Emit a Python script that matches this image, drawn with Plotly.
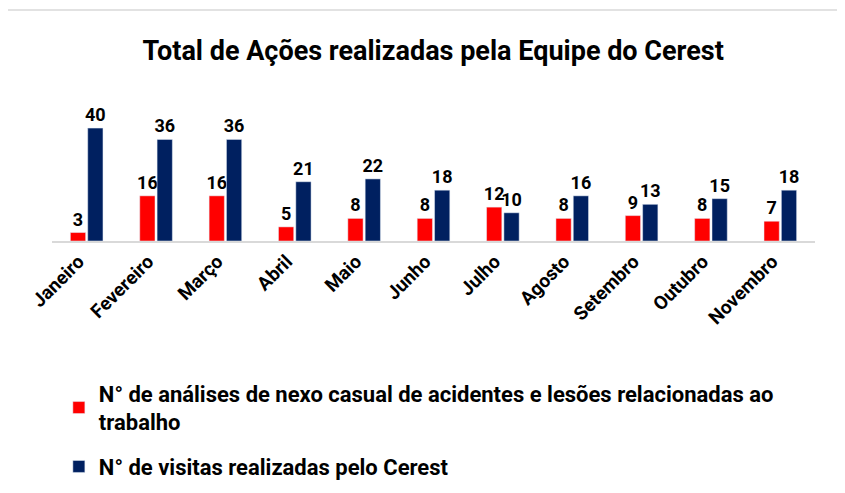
import plotly.graph_objects as go

meses = ["Janeiro", "Fevereiro", "Março", "Abril", "Maio", "Junho", "Julho",
         "Agosto", "Setembro", "Outubro", "Novembro"]
analises = [3, 16, 16, 5, 8, 8, 12, 8, 9, 8, 7]
visitas = [40, 36, 36, 21, 22, 18, 10, 16, 13, 15, 18]

nome1 = "N° de análises de nexo casual de acidentes e lesões relacionadas ao<br>trabalho"
nome2 = "N° de visitas realizadas pelo Cerest"

FONT = "Roboto"
lbl = dict(family=FONT, size=18, color="black", weight="bold")
fig = go.Figure()
fig.add_trace(go.Bar(x=meses, y=analises, name=nome1, marker_color="#ff0000",
                     legendgroup="a",
                     text=analises, textposition="outside",
                     cliponaxis=False, constraintext="none", textfont=lbl))
fig.add_trace(go.Bar(x=meses, y=visitas, name=nome2, marker_color="#002060",
                     legendgroup="b",
                     text=visitas, textposition="outside",
                     cliponaxis=False, constraintext="none", textfont=lbl))

fig.update_layout(
    width=837, height=485,
    margin=dict(l=44, r=30, t=106, b=252, autoexpand=False),
    paper_bgcolor="white", plot_bgcolor="white",
    barmode="group", bargap=0.5, bargroupgap=0.12,
    title=dict(text="Total de Ações realizadas pela Equipe do Cerest",
               x=0.508, xanchor="center", y=0.913, yanchor="middle",
               font=dict(family=FONT, size=27, color="black", weight="bold")),
    font=dict(family=FONT, color="black"),
    showlegend=True,
    legend=dict(orientation="v", x=0.009, xanchor="left", y=-1.035, yanchor="top",
                font=dict(family=FONT, size=22, color="black", weight="bold"),
                tracegroupgap=13, traceorder="grouped", itemwidth=30,
                bgcolor="rgba(0,0,0,0)"),
    shapes=[dict(type="rect", xref="paper", yref="paper",
                 x0=-0.0616, x1=1.06, y0=-2.05, y1=1.819,
                 line=dict(color="#d9d9d9", width=1.5), fillcolor="rgba(0,0,0,0)",
                 layer="below")],
)
fig.update_xaxes(tickangle=-45, showline=True, linecolor="#d9d9d9", linewidth=2,
                 ticks="", showgrid=False, automargin=False, ticklabelshift=-8,
                 tickfont=dict(family=FONT, size=19, color="black", weight="bold"))
fig.update_yaxes(range=[0, 45], visible=False, showgrid=False, zeroline=False,
                 automargin=False)

fig.write_html("out.html")
